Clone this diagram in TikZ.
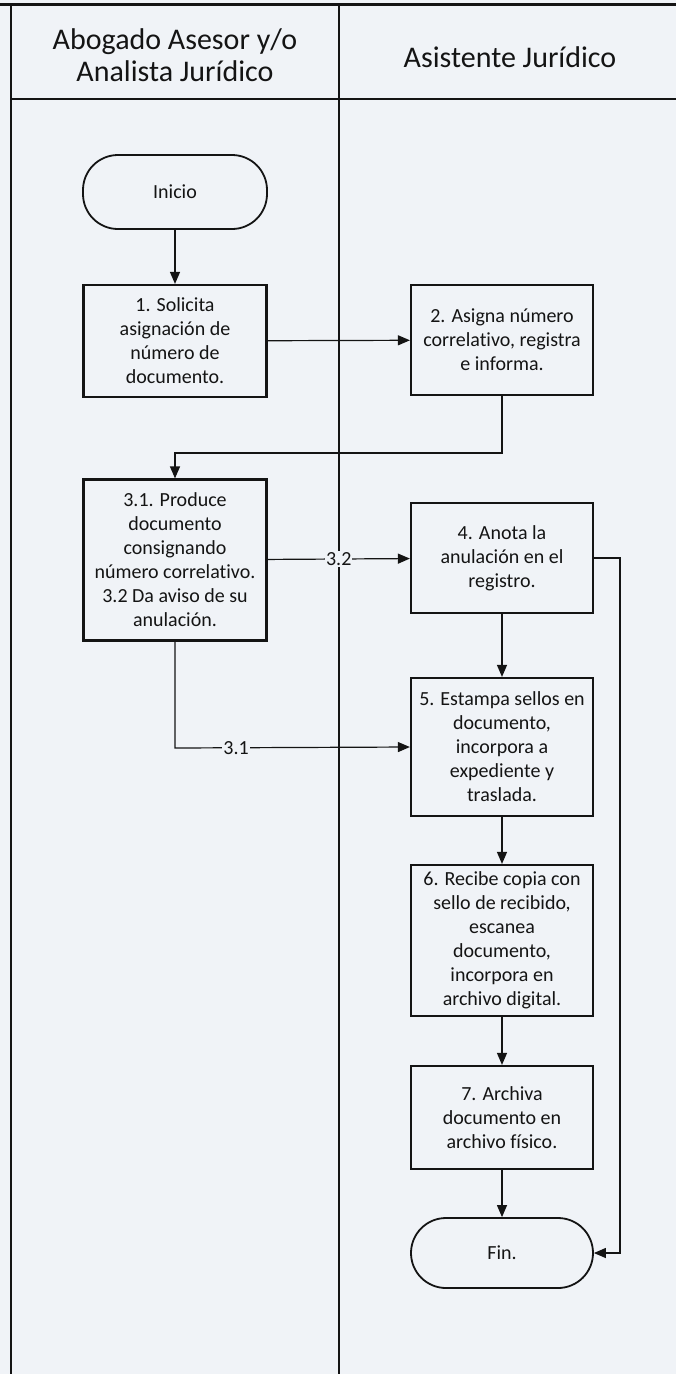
\documentclass[tikz,border=0pt]{standalone}
\usepackage{fontspec}
\setmainfont{Carlito}[Ligatures=NoCommon]
\usetikzlibrary{arrows.meta}
\definecolor{bg}{RGB}{240,243,247}
\definecolor{ink}{RGB}{20,20,20}
\begin{document}
\begin{tikzpicture}[x=1pt,y=-1pt,
  box/.style={draw=ink,line width=2.2pt,minimum width=182pt,align=center,inner sep=2pt,
    font=\fontsize{20}{24}\selectfont,text=ink},
  term/.style={box,line width=1.8pt,rounded corners=35pt},
  conn/.style={draw=ink,line width=1.2pt,-{Triangle[length=12pt,width=10pt]}},
  lane/.style={draw=ink,line width=1.5pt},
  hdr/.style={align=center,font=\fontsize{30}{32}\selectfont,text=ink},
  lbl/.style={fill=bg,inner sep=1pt,font=\fontsize{20}{24}\selectfont,text=ink}]
% background and bounding box
\fill[bg] (0,0) rectangle (676,1374);
\useasboundingbox (0,0) rectangle (676,1374);
% swimlanes
\draw[ink,line width=3pt] (0,4) -- (676,4);
\draw[lane] (11,4) -- (11,1374);
\draw[lane] (339,4) -- (339,1374);
\draw[lane,line width=2pt] (11,99) -- (676,99);
\node[hdr] (h1) at (175,55) {Abogado Asesor y/o\\Analista Jurídico};
\node[hdr] (h2) at (510,57) {Asistente Jurídico};
% nodes
\node[term,minimum width=184pt,minimum height=74pt] (ini) at (175,192) {Inicio};
\node[box,minimum width=183pt,minimum height=112pt] (b1) at (175,341) {1. Solicita\\asignación de\\número de\\documento.};
\node[box,minimum height=110pt] (b2) at (502,340) {2. Asigna número\\correlativo, registra\\e informa.};
\node[box,minimum width=183pt,minimum height=161pt] (b3) at (175,560) {3.1. Produce\\documento\\consignando\\número correlativo.\\3.2 Da aviso de su\\anulación.};
\node[box,minimum height=110pt] (b4) at (502,558) {4. Anota la\\anulación en el\\registro.};
\node[box,minimum height=138pt] (b5) at (502,747) {5. Estampa sellos en\\documento,\\incorpora a\\expediente y\\traslada.};
\node[box,minimum height=151pt] (b6) at (502,940.5) {6. Recibe copia con\\sello de recibido,\\escanea\\documento,\\incorpora en\\archivo digital.};
\node[box,minimum height=103pt] (b7) at (502,1117.5) {7. Archiva\\documento en\\archivo físico.};
\node[term,minimum height=70pt] (fin) at (502,1253) {Fin.};
% connectors
\coordinate (c2a) at (502,453);
\coordinate (c2b) at (175,453);
\coordinate (c3a) at (175,748);
\coordinate (c4a) at (620,558);
\coordinate (c4b) at (620,1253);
\draw[conn] (ini) -- (b1);
\draw[conn] (b1) -- (b2);
\draw[conn] (b2.south) -- (c2a) -- (c2b) -- (b3.north);
\draw[conn] (b3) -- node[lbl,pos=0.5] (l32) {3.2} (b4);
\draw[conn] (b3.south) -- (c3a) -- node[lbl,pos=0.26] (l31) {3.1} (b5.west);
\draw[conn] (b4) -- (b5);
\draw[conn] (b5) -- (b6);
\draw[conn] (b6) -- (b7);
\draw[conn] (b7) -- (fin);
\draw[conn] (b4.east) -- (c4a) -- (c4b) -- (fin.east);
\end{tikzpicture}
\end{document}
